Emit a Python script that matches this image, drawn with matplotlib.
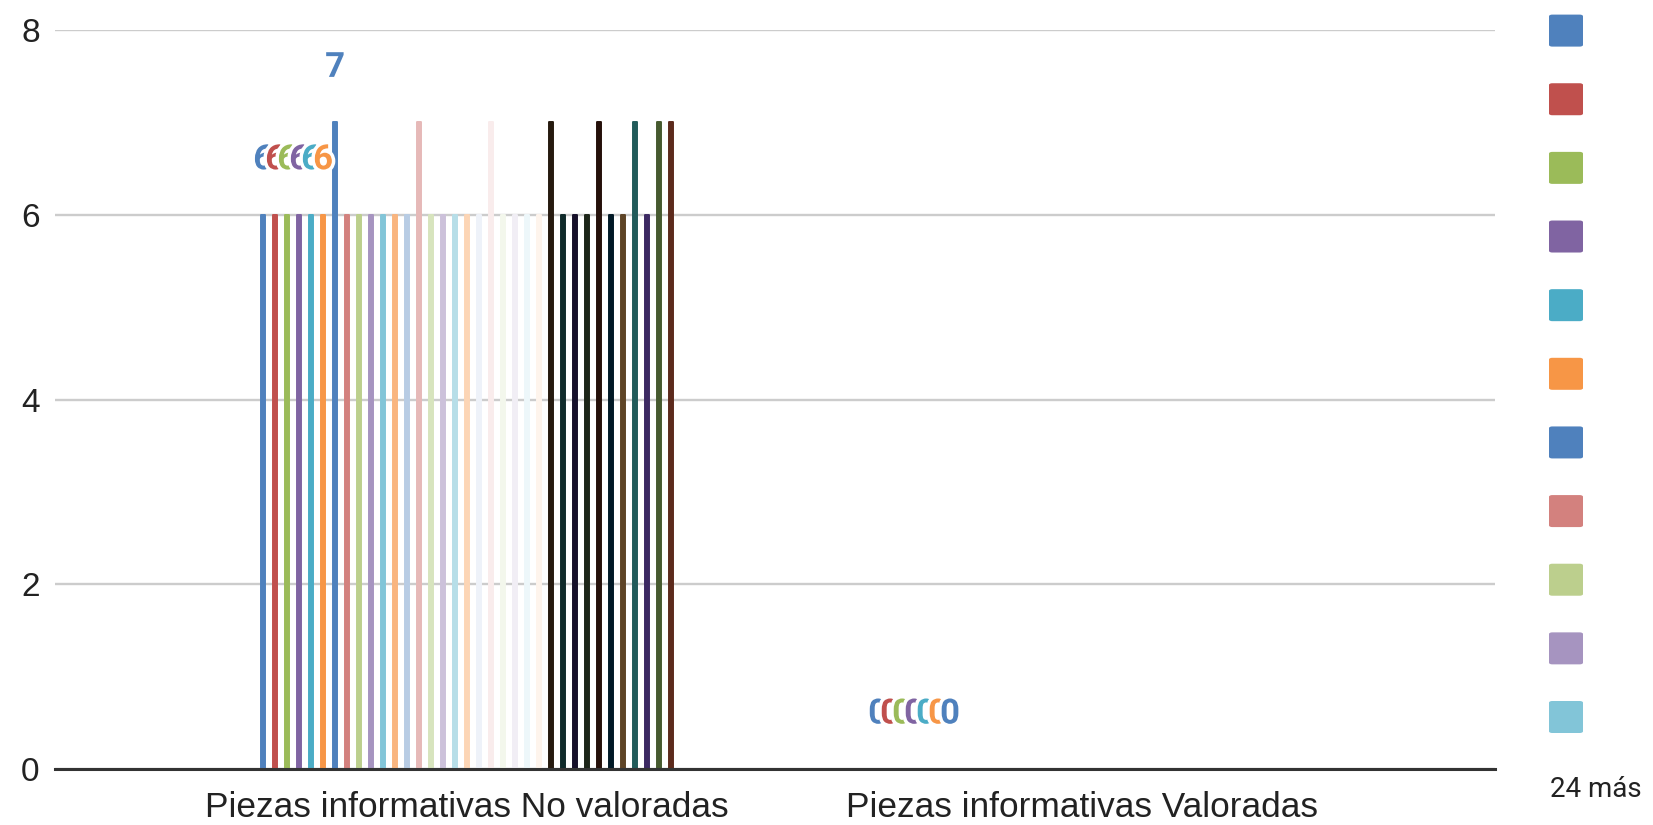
import matplotlib
matplotlib.use("Agg")
import matplotlib.pyplot as plt
import matplotlib.patheffects as pe
from matplotlib.patches import FancyBboxPatch

# ---- data ----
categories = ["Piezas informativas No valoradas", "Piezas informativas Valoradas"]
values_no_valoradas = [6, 6, 6, 6, 6, 6, 7, 6, 6, 6, 6, 6, 6, 7, 6, 6, 6, 6, 6, 7,
                       6, 6, 6, 6, 7, 6, 6, 6, 7, 6, 6, 7, 6, 7, 7]
values_valoradas = [0] * 35
series_colors = [
    "#4F81BD", "#C0504D", "#9BBB59", "#8064A2", "#4BACC6", "#F79646",
    "#4F81BD", "#D3817E", "#BCCF8D", "#A694C0", "#82C5D8", "#F9B57F",
    "#B8CCE4", "#E6B9B8", "#D7E4BD", "#CCC1DA", "#B7DEE8", "#FCD5B5",
    "#EEF2F9", "#F9ECEC", "#F3F7EC", "#F1EEF5", "#EDF7FA", "#FEF4EC",
    "#261A0F", "#0F2A2A", "#16102A", "#1C2518", "#25100A", "#011926",
    "#5E4426", "#215B5A", "#3C2962", "#465A2F", "#5C2A1C",
]
labeled_series = 7          # only first 7 series show data labels
legend_shown = 11
legend_more_text = "24 más"
yticks = [0, 2, 4, 6, 8]

# ---- figure ----
W, H, DPI = 1653, 825, 100
fig = plt.figure(figsize=(W / DPI, H / DPI), dpi=DPI)
ax_left, ax_right, ax_top, ax_bot = 55, 1495, 30, 769
ax = fig.add_axes([ax_left / W, 1 - ax_bot / H, (ax_right - ax_left) / W, (ax_bot - ax_top) / H])

n = len(series_colors)
step = 0.01949
bar_w = 0.0065
for i, col in enumerate(series_colors):
    off = (i - (n - 1) / 2) * step
    vals = [values_no_valoradas[i], values_valoradas[i]]
    xs = [c + off for c in range(len(categories))]
    ax.bar(xs, vals, width=bar_w, color=col, edgecolor=col, linewidth=1.4,
           joinstyle="round", zorder=3)

# data labels (first series only), later drawn on top
for i in range(labeled_series):
    off = (i - (n - 1) / 2) * step
    col = series_colors[i]
    for c, vals in enumerate([values_no_valoradas, values_valoradas]):
        ax.annotate(str(vals[i]), (c + off, vals[i]), xytext=(0, 55),
                    textcoords="offset pixels", ha="center", va="center",
                    fontsize=25, fontweight="bold", color=col, family="Roboto",
                    zorder=5,
                    path_effects=[pe.withStroke(linewidth=5, foreground="white")])

ax.set_xlim(-0.670, 1.672)
ax.set_ylim(0, 8)
ax.set_yticks(yticks)
ax.set_yticklabels([str(t) for t in yticks], fontsize=24, family="Liberation Sans", color="#222222")
ax.set_xticks(range(len(categories)))
ax.set_xticklabels(categories, fontsize=25.4, family="Liberation Sans", color="#222222")
ax.tick_params(axis="y", length=0, pad=11)
ax.tick_params(axis="x", length=0, pad=16)
for s in ["top", "right", "left"]:
    ax.spines[s].set_visible(False)
ax.spines["bottom"].set_color("#333333")
ax.spines["bottom"].set_linewidth(2.2)
ax.spines["bottom"].set_zorder(4)
ax.yaxis.grid(True, color="#CCCCCC", linewidth=1.7, zorder=0)
ax.set_axisbelow(True)

# legend (colour boxes only, as in reference)
sq_x, sq_w, sq_h = 1549, 34, 32
y0, dy = 30.6, 68.64
for k in range(legend_shown):
    cy = y0 + k * dy
    fig.patches.append(FancyBboxPatch(
        (sq_x / W, 1 - (cy + sq_h / 2) / H), sq_w / W, sq_h / H,
        boxstyle="round,pad=0,rounding_size=0.002", transform=fig.transFigure,
        facecolor=series_colors[k], edgecolor="none"))
fig.text(1550 / W, 1 - 797 / H, legend_more_text, fontsize=20, family="Roboto",
         color="#222222", ha="left", va="baseline")

fig.savefig("out.png", dpi=DPI)
